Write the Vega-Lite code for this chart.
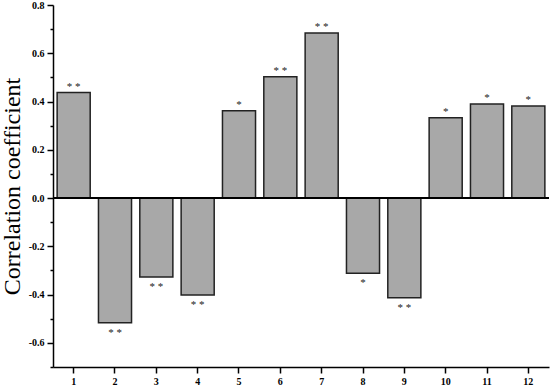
{
  "$schema": "https://vega.github.io/schema/vega-lite/v6.json",
  "width": 496,
  "height": 362,
  "autosize": {"type": "none"},
  "padding": {"left": 53, "top": 5, "right": 3, "bottom": 21},
  "background": "white",
  "config": {"view": {"stroke": null}, "font": "Liberation Serif"},
  "data": {"values": [
    {"g": "1", "v": 0.437, "sig": "*  *"},
    {"g": "2", "v": -0.517, "sig": "*  *"},
    {"g": "3", "v": -0.327, "sig": "*  *"},
    {"g": "4", "v": -0.402, "sig": "*  *"},
    {"g": "5", "v": 0.362, "sig": "*"},
    {"g": "6", "v": 0.503, "sig": "*  *"},
    {"g": "7", "v": 0.684, "sig": "*  *"},
    {"g": "8", "v": -0.312, "sig": "*"},
    {"g": "9", "v": -0.413, "sig": "*  *"},
    {"g": "10", "v": 0.333, "sig": "*"},
    {"g": "11", "v": 0.39, "sig": "*"},
    {"g": "12", "v": 0.381, "sig": "*"}
  ]},
  "encoding": {
    "x": {"field": "g", "type": "ordinal", "sort": null,
      "scale": {"paddingInner": 0.2, "paddingOuter": 0.1},
      "axis": {"title": null, "labelAngle": 0, "labelFont": "Liberation Serif", "labelFontWeight": "bold", "labelFontSize": 10, "labelColor": "black", "domainColor": "black", "domainWidth": 1.5, "tickColor": "black", "tickWidth": 1.5, "tickSize": 6, "labelPadding": 3}},
    "y": {"field": "v", "type": "quantitative",
      "scale": {"domain": [-0.7, 0.8], "nice": false, "zero": false},
      "axis": {"title": "Correlation coefficient", "titleFont": "Liberation Serif", "titleFontSize": 24, "titleFontWeight": "normal", "titleColor": "black", "titlePadding": 4,
        "values": [-0.7, -0.6, -0.5, -0.4, -0.3, -0.2, -0.1, 0, 0.1, 0.2, 0.3, 0.4, 0.5, 0.6, 0.7, 0.8],
        "labelExpr": "abs(round(datum.value*10)) % 2 == 1 ? '' : replace(format(datum.value, '.1f'), '\u2212', '-')",
        "tickSize": {"condition": {"test": "abs(round(datum.value*10)) % 2 == 1", "value": 3}, "value": 6},
        "labelFont": "Liberation Serif", "labelFontWeight": "bold", "labelFontSize": 10, "labelColor": "black", "labelPadding": 3,
        "domainColor": "black", "domainWidth": 1.5, "tickColor": "black", "tickWidth": 1.5, "grid": false}}
  },
  "layer": [
    {"mark": {"type": "bar", "fill": "#a8a8a8", "stroke": "#222222", "strokeWidth": 1.5}},
    {"mark": {"type": "rule", "color": "black", "strokeWidth": 1.5}, "encoding": {"y": {"datum": 0}, "x": null}},
    {"transform": [{"filter": "datum.v > 0"}],
      "mark": {"type": "text", "baseline": "alphabetic", "dy": -3, "fontSize": 11, "font": "Liberation Serif", "fill": "#222222"},
      "encoding": {"text": {"field": "sig"}}},
    {"transform": [{"filter": "datum.v < 0"}],
      "mark": {"type": "text", "baseline": "top", "dy": 4, "fontSize": 11, "font": "Liberation Serif", "fill": "#222222"},
      "encoding": {"text": {"field": "sig"}}}
  ]
}
